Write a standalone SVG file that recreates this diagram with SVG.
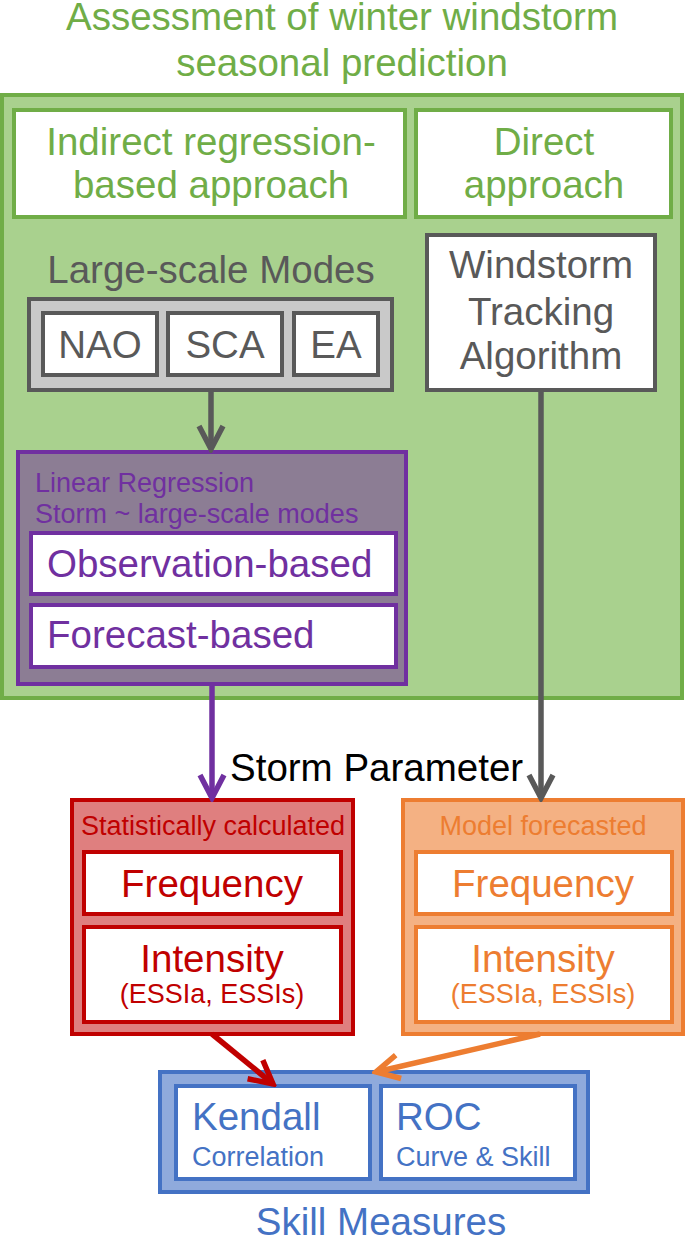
<svg xmlns="http://www.w3.org/2000/svg" width="685" height="1238" viewBox="0 0 685 1238">
<style>
text{font-family:"Liberation Sans",Arial,sans-serif}
.big{font-size:38.5px}
.sm{font-size:27px}
.mid{text-anchor:middle}
.g{fill:#70ad47}.gr{fill:#595959}.pu{fill:#7030a0}.rd{fill:#c00000}.or{fill:#ed7d31}.bl{fill:#4472c4}
.wg{fill:#fff;stroke:#70ad47;stroke-width:4}
.wgr{fill:#fff;stroke:#595959;stroke-width:4}
.wpu{fill:#fff;stroke:#7030a0;stroke-width:4}
.wrd{fill:#fff;stroke:#c00000;stroke-width:4}
.wor{fill:#fff;stroke:#ed7d31;stroke-width:4}
.wbl{fill:#fff;stroke:#4472c4;stroke-width:4}
.ln{fill:none;stroke-width:5.5}
</style>
<defs>
<marker id="mgr" viewBox="0 0 30 30" refX="26" refY="15" markerWidth="30" markerHeight="30" markerUnits="userSpaceOnUse" orient="auto"><path d="M3,3 L26,15 L3,27" fill="none" stroke="#595959" stroke-width="5.5"/></marker>
<marker id="mpu" viewBox="0 0 30 30" refX="26" refY="15" markerWidth="30" markerHeight="30" markerUnits="userSpaceOnUse" orient="auto"><path d="M3,3 L26,15 L3,27" fill="none" stroke="#7030a0" stroke-width="5.5"/></marker>
<marker id="mrd" viewBox="0 0 30 30" refX="26" refY="15" markerWidth="30" markerHeight="30" markerUnits="userSpaceOnUse" orient="auto"><path d="M3,3 L26,15 L3,27" fill="none" stroke="#c00000" stroke-width="5.5"/></marker>
<marker id="mor" viewBox="0 0 30 30" refX="26" refY="15" markerWidth="30" markerHeight="30" markerUnits="userSpaceOnUse" orient="auto"><path d="M3,3 L26,15 L3,27" fill="none" stroke="#ed7d31" stroke-width="5.5"/></marker>
</defs>

<g id="title">
<text class="big mid g" x="342" y="30">Assessment of winter windstorm</text>
<text class="big mid g" x="342" y="76">seasonal prediction</text>
</g>

<g id="assessment">
<rect x="2" y="95" width="680" height="603" fill="#a9d18e" stroke="#70ad47" stroke-width="4"/>
</g>

<g id="indirect">
<rect class="wg" x="14" y="110" width="391" height="107"/>
<text class="big mid g" x="211" y="155">Indirect regression-</text>
<text class="big mid g" x="211" y="198">based approach</text>
</g>

<g id="direct">
<rect class="wg" x="416" y="110" width="255" height="107"/>
<text class="big mid g" x="544" y="155">Direct</text>
<text class="big mid g" x="544" y="198">approach</text>
</g>

<g id="largescale">
<text class="big mid gr" x="211" y="283">Large-scale Modes</text>
<rect x="29" y="299" width="363" height="91" fill="#c9c9c9" stroke="#595959" stroke-width="4"/>
</g>
<g id="nao">
<rect class="wgr" x="43" y="313" width="114" height="62"/>
<text class="big mid gr" x="100" y="358">NAO</text>
</g>
<g id="sca">
<rect class="wgr" x="168" y="313" width="114" height="62"/>
<text class="big mid gr" x="225" y="358">SCA</text>
</g>
<g id="ea">
<rect class="wgr" x="294" y="313" width="84" height="62"/>
<text class="big mid gr" x="336" y="358">EA</text>
</g>

<g id="tracking">
<rect class="wgr" x="427" y="235" width="228" height="155"/>
<text class="big mid gr" x="541" y="278">Windstorm</text>
<text class="big mid gr" x="541" y="325">Tracking</text>
<text class="big mid gr" x="541" y="369">Algorithm</text>
</g>

<g id="regression">
<rect x="18" y="452" width="388" height="232" fill="#8c7d94" stroke="#7030a0" stroke-width="4"/>
<text class="sm pu" x="35" y="492">Linear Regression</text>
<text class="sm pu" x="35" y="523">Storm ~ large-scale modes</text>
</g>
<g id="obs">
<rect class="wpu" x="31" y="533" width="365" height="61"/>
<text class="big pu" x="47" y="577">Observation-based</text>
</g>
<g id="fc">
<rect class="wpu" x="31" y="605" width="365" height="62"/>
<text class="big pu" x="47" y="648">Forecast-based</text>
</g>

<g id="stormparam">
<text class="big" x="230" y="781" fill="#000">Storm Parameter</text>
</g>

<g id="stat">
<rect x="72" y="800" width="281" height="234" fill="#df7f7f" stroke="#c00000" stroke-width="4"/>
<text class="sm mid rd" x="213" y="835">Statistically calculated</text>
</g>
<g id="stat-freq">
<rect class="wrd" x="84" y="852" width="257" height="62"/>
<text class="big mid rd" x="212" y="897">Frequency</text>
</g>
<g id="stat-int">
<rect class="wrd" x="84" y="927" width="257" height="95"/>
<text class="big mid rd" x="212" y="972">Intensity</text>
<text class="sm mid rd" x="212" y="1003">(ESSIa, ESSIs)</text>
</g>

<g id="model">
<rect x="403" y="800" width="280" height="234" fill="#f4b183" stroke="#ed7d31" stroke-width="4"/>
<text class="sm mid or" x="543" y="835">Model forecasted</text>
</g>
<g id="model-freq">
<rect class="wor" x="416" y="852" width="256" height="62"/>
<text class="big mid or" x="543" y="897">Frequency</text>
</g>
<g id="model-int">
<rect class="wor" x="416" y="927" width="256" height="95"/>
<text class="big mid or" x="543" y="972">Intensity</text>
<text class="sm mid or" x="543" y="1003">(ESSIa, ESSIs)</text>
</g>

<g id="skill">
<rect x="160" y="1072" width="428" height="120" fill="#8faadc" stroke="#4472c4" stroke-width="4"/>
<text class="big mid bl" x="381" y="1235">Skill Measures</text>
</g>
<g id="kendall">
<rect class="wbl" x="176" y="1086" width="194" height="93"/>
<text class="big bl" x="192" y="1130">Kendall</text>
<text class="sm bl" x="192" y="1166">Correlation</text>
</g>
<g id="roc">
<rect class="wbl" x="381" y="1086" width="194" height="93"/>
<text class="big bl" x="396" y="1130">ROC</text>
<text class="sm bl" x="396" y="1166">Curve &amp; Skill</text>
</g>

<g id="connectors">
<line class="ln" x1="211" y1="390" x2="211" y2="449" stroke="#595959" marker-end="url(#mgr)"/>
<line class="ln" x1="541" y1="390" x2="541" y2="798" stroke="#595959" marker-end="url(#mgr)"/>
<line class="ln" x1="212" y1="684" x2="212" y2="798" stroke="#7030a0" marker-end="url(#mpu)"/>
<line class="ln" x1="212" y1="1034" x2="273" y2="1084" stroke="#c00000" marker-end="url(#mrd)"/>
<line class="ln" x1="540" y1="1034" x2="376" y2="1072" stroke="#ed7d31" marker-end="url(#mor)"/>
</g>
</svg>
